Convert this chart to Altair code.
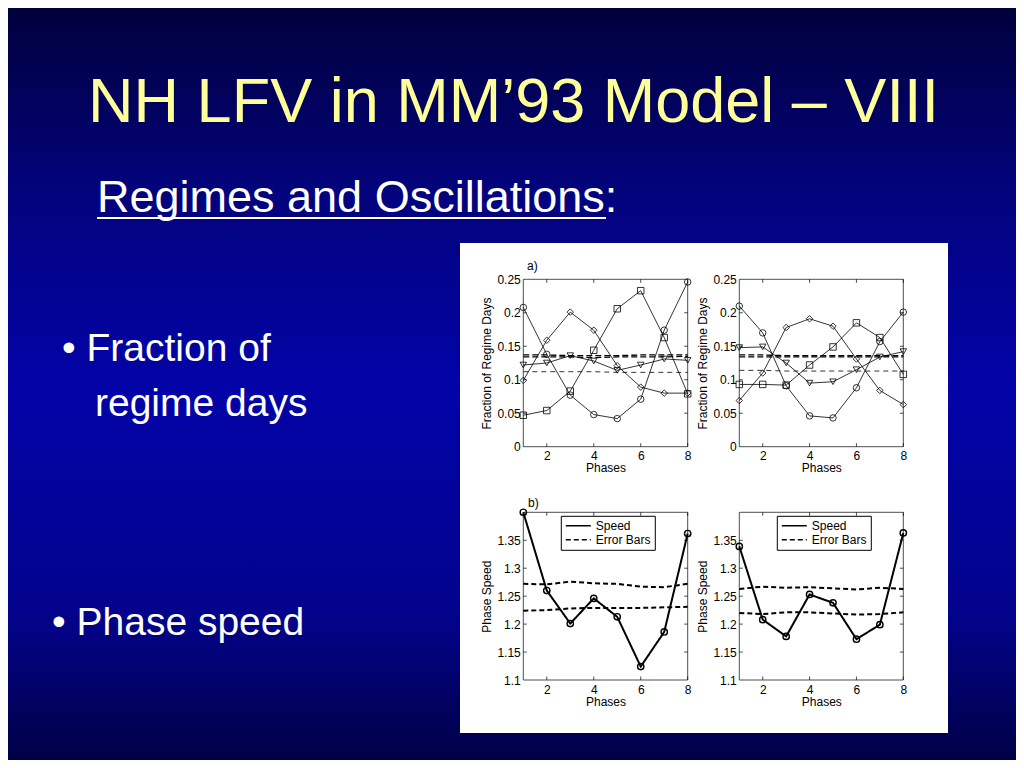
import altair as alt
import pandas as pd

# ---------------- data ----------------
PHASES = [1, 2, 3, 4, 5, 6, 7, 8]
REGIMES = ["circle", "diamond", "square", "triangle-down"]
X_TICKS = [2, 4, 6, 8]
A_YTICKS = [0, 0.05, 0.1, 0.15, 0.2, 0.25]
B_YTICKS = [1.1, 1.15, 1.2, 1.25, 1.3, 1.35]

# a) left panel: fraction of regime days per phase
AL_CIRCLE = [0.208, 0.138, 0.077, 0.048, 0.042, 0.071, 0.174, 0.246]
AL_DIAMOND = [0.099, 0.159, 0.201, 0.174, 0.121, 0.089, 0.080, 0.080]
AL_SQUARE = [0.047, 0.054, 0.083, 0.144, 0.206, 0.233, 0.163, 0.079]
AL_TRIANGLE = [0.122, 0.125, 0.136, 0.128, 0.114, 0.122, 0.131, 0.129]
AL_SIG_HI = [0.137, 0.137, 0.136, 0.136, 0.136, 0.137, 0.137, 0.137]
AL_SIG_MID = [0.134, 0.134, 0.134, 0.133, 0.134, 0.134, 0.134, 0.135]
AL_SIG_LO = [0.112, 0.112, 0.112, 0.112, 0.111, 0.111, 0.111, 0.111]

# a) right panel
AR_CIRCLE = [0.210, 0.170, 0.091, 0.046, 0.043, 0.088, 0.157, 0.201]
AR_DIAMOND = [0.069, 0.110, 0.178, 0.191, 0.180, 0.131, 0.084, 0.063]
AR_SQUARE = [0.093, 0.093, 0.092, 0.122, 0.149, 0.185, 0.163, 0.108]
AR_TRIANGLE = [0.148, 0.149, 0.125, 0.095, 0.097, 0.115, 0.134, 0.142]
AR_SIG_HI = [0.137, 0.137, 0.136, 0.136, 0.136, 0.136, 0.136, 0.136]
AR_SIG_MID = [0.134, 0.134, 0.134, 0.134, 0.134, 0.134, 0.134, 0.134]
AR_SIG_LO = [0.114, 0.114, 0.113, 0.113, 0.113, 0.113, 0.113, 0.113]

# b) phase speed
BL_SPEED = [1.400, 1.260, 1.201, 1.246, 1.213, 1.124, 1.186, 1.362]
BL_EB_HI = [1.272, 1.271, 1.276, 1.273, 1.272, 1.267, 1.266, 1.272]
BL_EB_LO = [1.224, 1.225, 1.228, 1.229, 1.229, 1.229, 1.230, 1.231]
BR_SPEED = [1.339, 1.208, 1.178, 1.253, 1.238, 1.173, 1.199, 1.363]
BR_EB_HI = [1.263, 1.267, 1.265, 1.266, 1.264, 1.262, 1.265, 1.263]
BR_EB_LO = [1.220, 1.218, 1.221, 1.221, 1.219, 1.217, 1.218, 1.221]

# ---------------- layout ----------------
W, H = 1008, 752
FONT = "Liberation Sans"
PANELS = {
    "AL": dict(x1=515.3, x8=679.7, yb=438.7, yt=271.3, ydom=[0, 0.25]),
    "AR": dict(x1=731.3, x8=895.3, yb=438.7, yt=271.3, ydom=[0, 0.25]),
    "BL": dict(x1=515.3, x8=679.7, yb=672.0, yt=504.3, ydom=[1.1, 1.4]),
    "BR": dict(x1=731.3, x8=895.3, yb=672.0, yt=504.3, ydom=[1.1, 1.4]),
}
ONE = alt.Data(values=[{}])


def sx(p):
    return alt.Scale(domain=[1, 8], range=[p["x1"], p["x8"]], nice=False, zero=False)


def sy(p):
    return alt.Scale(domain=p["ydom"], range=[p["yb"], p["yt"]], nice=False, zero=False)


def x_axis(p):
    return alt.Axis(orient="bottom", offset=p["yb"] - H, values=X_TICKS, title="Phases",
                    domain=False, ticks=False, grid=False, labelFlush=False,
                    labelFont=FONT, labelFontSize=12, labelColor="black", labelPadding=4,
                    titleFont=FONT, titleFontSize=12, titleFontWeight="normal",
                    titleColor="black", titlePadding=1, zindex=1)


def y_axis(p, title, values):
    return alt.Axis(orient="left", offset=-p["x1"], values=values, title=title, format="~g",
                    domain=False, ticks=False, grid=False, labelFlush=False,
                    labelFont=FONT, labelFontSize=12, labelColor="black", labelPadding=3,
                    titleFont=FONT, titleFontSize=12, titleFontWeight="normal",
                    titleColor="black", titlePadding=3, zindex=1)


def frame_layers(p, yticks):
    ys, xs = sy(p), sx(p)
    lo, hi = p["ydom"]
    frame = alt.Chart(ONE).mark_rect(fillOpacity=0, stroke="#222", strokeWidth=0.8).encode(
        x=alt.XDatum(1, scale=xs, axis=None), x2=alt.X2Datum(8),
        y=alt.YDatum(lo, scale=ys, axis=None), y2=alt.Y2Datum(hi))
    xt = pd.DataFrame({"t": X_TICKS})
    yt = pd.DataFrame({"t": yticks})
    tick_kw = dict(size=49, filled=False, stroke="black", strokeWidth=0.7, opacity=1)
    layers = [frame]
    for shape, yval in [("M0,0V-1", lo), ("M0,0V1", hi)]:
        layers.append(alt.Chart(xt).mark_point(shape=shape, **tick_kw).encode(
            x=alt.X("t:Q", scale=sx(p), axis=None),
            y=alt.YDatum(yval, scale=sy(p), axis=None)))
    for shape, xval in [("M0,0H1", 1), ("M0,0H-1", 8)]:
        layers.append(alt.Chart(yt).mark_point(shape=shape, **tick_kw).encode(
            x=alt.XDatum(xval, scale=sx(p), axis=None),
            y=alt.Y("t:Q", scale=sy(p), axis=None)))
    return layers


def regime_panel(key, series, sig_hi, sig_mid, sig_lo):
    p = PANELS[key]
    rows = []
    for shape, vals in zip(REGIMES, series):
        for ph, v in zip(PHASES, vals):
            rows.append(dict(phase=ph, value=v, regime=shape))
    df = pd.DataFrame(rows)
    sig = pd.DataFrame(
        [dict(phase=ph, value=v, line="hi") for ph, v in zip(PHASES, sig_hi)]
        + [dict(phase=ph, value=v, line="mid") for ph, v in zip(PHASES, sig_mid)])
    sig_thin = pd.DataFrame(dict(phase=PHASES, value=sig_lo))

    layers = frame_layers(p, A_YTICKS[1:-1])
    layers.append(alt.Chart(sig).mark_line(color="black", strokeWidth=1.3, strokeDash=[6, 3]).encode(
        x=alt.X("phase:Q", scale=sx(p), axis=None),
        y=alt.Y("value:Q", scale=sy(p), axis=None), detail="line:N"))
    layers.append(alt.Chart(sig_thin).mark_line(color="black", strokeWidth=0.8, strokeDash=[5, 4]).encode(
        x=alt.X("phase:Q", scale=sx(p), axis=None),
        y=alt.Y("value:Q", scale=sy(p), axis=None)))
    layers.append(alt.Chart(df).mark_line(color="black", strokeWidth=0.8).encode(
        x=alt.X("phase:Q", scale=sx(p), axis=x_axis(p)),
        y=alt.Y("value:Q", scale=sy(p), axis=y_axis(p, "Fraction of Regime Days", A_YTICKS)),
        detail="regime:N"))
    layers.append(alt.Chart(df).mark_point(filled=False, color="black", size=42, strokeWidth=0.8,
                                           opacity=1).encode(
        x=alt.X("phase:Q", scale=sx(p), axis=None),
        y=alt.Y("value:Q", scale=sy(p), axis=None),
        shape=alt.Shape("regime:N", scale=alt.Scale(domain=REGIMES, range=REGIMES), legend=None)))
    return layers


def speed_panel(key, speed, eb_hi, eb_lo):
    p = PANELS[key]
    rows = []
    for name, kind, vals in [("speed", "Speed", speed), ("upper", "Error Bars", eb_hi),
                             ("lower", "Error Bars", eb_lo)]:
        for ph, v in zip(PHASES, vals):
            rows.append(dict(phase=ph, value=v, kind=kind, line=name))
    df = pd.DataFrame(rows)
    pts = pd.DataFrame(dict(phase=PHASES, value=speed))

    layers = frame_layers(p, B_YTICKS[1:])
    legend = alt.Legend(title=None, orient="none", legendX=p["x1"] + 37.5, legendY=p["yt"] + 3.5,
                        symbolType="M-1,0H4", symbolSize=100, symbolStrokeWidth=1.6,
                        symbolStrokeColor="black", labelFont=FONT, labelFontSize=12,
                        labelColor="black", labelOffset=19, padding=4, rowPadding=2,
                        fillColor="white", strokeColor="black", zindex=2)
    layers.append(alt.Chart(df).mark_line(color="black", strokeWidth=2).encode(
        x=alt.X("phase:Q", scale=sx(p), axis=x_axis(p)),
        y=alt.Y("value:Q", scale=sy(p), axis=y_axis(p, "Phase Speed", B_YTICKS)),
        strokeDash=alt.StrokeDash("kind:N", scale=alt.Scale(domain=["Speed", "Error Bars"],
                                                             range=[[1, 0], [5, 3]]),
                                  legend=legend),
        detail="line:N"))
    layers.append(alt.Chart(pts).mark_point(shape="circle", filled=False, color="black", size=40,
                                            strokeWidth=1.4, opacity=1).encode(
        x=alt.X("phase:Q", scale=sx(p), axis=None),
        y=alt.Y("value:Q", scale=sy(p), axis=None)))
    return layers


# ---------------- slide decoration ----------------
bg = alt.Chart(ONE).mark_rect(
    fill=alt.Gradient(gradient="linear", x1=0, y1=0, x2=0, y2=1, stops=[
        alt.GradientStop(offset=0, color="#00003c"),
        alt.GradientStop(offset=0.25, color="#03037e"),
        alt.GradientStop(offset=0.5, color="#0303a8"),
        alt.GradientStop(offset=0.8, color="#03038e"),
        alt.GradientStop(offset=1, color="#000046")])
).encode(x=alt.value(0), x2=alt.value(W), y=alt.value(0), y2=alt.value(H))


def txt(text, x, y, size, color="white", align="left"):
    return alt.Chart(ONE).mark_text(text=text, font=FONT, fontSize=size, color=color,
                                    align=align, baseline="alphabetic").encode(
        x=alt.value(x), y=alt.value(y))


title = txt("NH LFV in MM\u201993 Model \u2013 VIII", 505.5, 114, 63, color="#ffff99", align="center")
subtitle = txt("Regimes and Oscillations:", 89, 204, 45)
underline = alt.Chart(ONE).mark_rule(color="white", strokeWidth=2).encode(
    x=alt.value(89), x2=alt.value(598), y=alt.value(210))
b1 = txt("\u2022 Fraction of", 54, 353, 39)
b1b = txt("regime days", 87, 408, 39)
b2 = txt("\u2022 Phase speed", 44, 627, 39)
white_box = alt.Chart(ONE).mark_rect(fill="white").encode(
    x=alt.value(452), x2=alt.value(940), y=alt.value(235), y2=alt.value(725))
lab_a = txt("a)", 519, 262, 12, color="black")
lab_b = txt("b)", 520, 499, 12, color="black")

layers = [bg, title, subtitle, underline, b1, b1b, b2, white_box, lab_a, lab_b]
layers += regime_panel("AL", [AL_CIRCLE, AL_DIAMOND, AL_SQUARE, AL_TRIANGLE], AL_SIG_HI, AL_SIG_MID, AL_SIG_LO)
layers += regime_panel("AR", [AR_CIRCLE, AR_DIAMOND, AR_SQUARE, AR_TRIANGLE], AR_SIG_HI, AR_SIG_MID, AR_SIG_LO)
layers += speed_panel("BL", BL_SPEED, BL_EB_HI, BL_EB_LO)
layers += speed_panel("BR", BR_SPEED, BR_EB_HI, BR_EB_LO)

chart = alt.layer(*layers).resolve_scale(
    x="independent", y="independent", shape="independent", strokeDash="independent"
).properties(
    width=W, height=H, padding=0, autosize=alt.AutoSizeParams(type="none"),
    background="#00003c"
).configure_view(stroke=None)

chart.save("out.html", embed_options={"renderer": "svg", "actions": False})
